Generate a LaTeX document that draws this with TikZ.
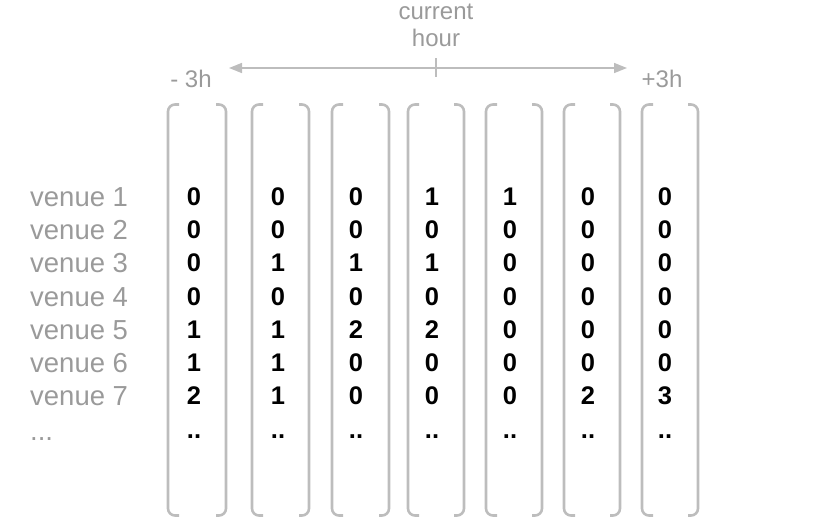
\documentclass[tikz,border=0pt]{standalone}
\usepackage{fontspec}
\setmainfont{Liberation Sans}
\usetikzlibrary{arrows.meta}
\definecolor{lblgray}{HTML}{9A9A9A}
\definecolor{brgray}{HTML}{BDBDBD}
\tikzset{
  lbl/.style={text=lblgray, font=\fontsize{27.5}{27.5}\selectfont, inner sep=0pt, anchor=base west},
  toplbl/.style={text=lblgray, font=\fontsize{24}{24}\selectfont, inner sep=0pt, anchor=base},
  num/.style={text=black, font=\fontsize{25.5}{25.5}\selectfont\bfseries, inner sep=0pt, anchor=base},
  bracket/.style={draw=brgray, line width=2.6pt, rounded corners=7pt},
  axis/.style={draw=brgray, line width=1.6pt},
}
\begin{document}
\begin{tikzpicture}[x=1pt,y=-1pt]
\useasboundingbox (0,0) rectangle (831,525);
% top labels
\node[toplbl] (cur) at (436,19.5) {current};
\node[toplbl] (hour) at (436,46.5) {hour};
\node[toplbl] (m3) at (191,87) {- 3h};
\node[toplbl] (p3) at (662,87) {+3h};
% axis arrow
\coordinate (al) at (229,68);
\coordinate (ar) at (627,68);
\coordinate (tt) at (436,58);
\coordinate (tb) at (436,77);
\draw[axis, {Triangle[length=13pt,width=10pt]}-{Triangle[length=13pt,width=10pt]}] (al) -- (ar);
\draw[axis, line width=1.2pt] (tt) -- (tb);
% brackets
\foreach \L/\R in {168/226, 252/309, 332/389, 408/464, 486/542, 564/620, 642/698}{
  \draw[bracket] (\L+11,104.5) -- (\L,104.5) -- (\L,515.5) -- (\L+11,515.5);
  \draw[bracket] (\R-10,104.5) -- (\R,104.5) -- (\R,515.5) -- (\R-10,515.5);
}
% venue labels
\foreach \r in {1,...,7}{
  \node[lbl] (v\r) at (30,{206.5+33.2*(\r-1)}) {venue \r};
}
\node[lbl] (vdots) at (30,440) {...};
% numbers
\foreach \c/\x/\vals in {
  1/194/{0,0,0,0,1,1,2},
  2/278/{0,0,1,0,1,1,1},
  3/356/{0,0,1,0,2,0,0},
  4/432/{1,0,1,0,2,0,0},
  5/510/{1,0,0,0,0,0,0},
  6/588/{0,0,0,0,0,0,2},
  7/665/{0,0,0,0,0,0,3}}{
  \foreach \v [count=\r] in \vals {
    \node[num] (n\c-\r) at (\x,{205.5+33.2*(\r-1)}) {\v};
  }
  \node[num] (n\c-8) at (\x,438) {..};
}
\end{tikzpicture}
\end{document}
